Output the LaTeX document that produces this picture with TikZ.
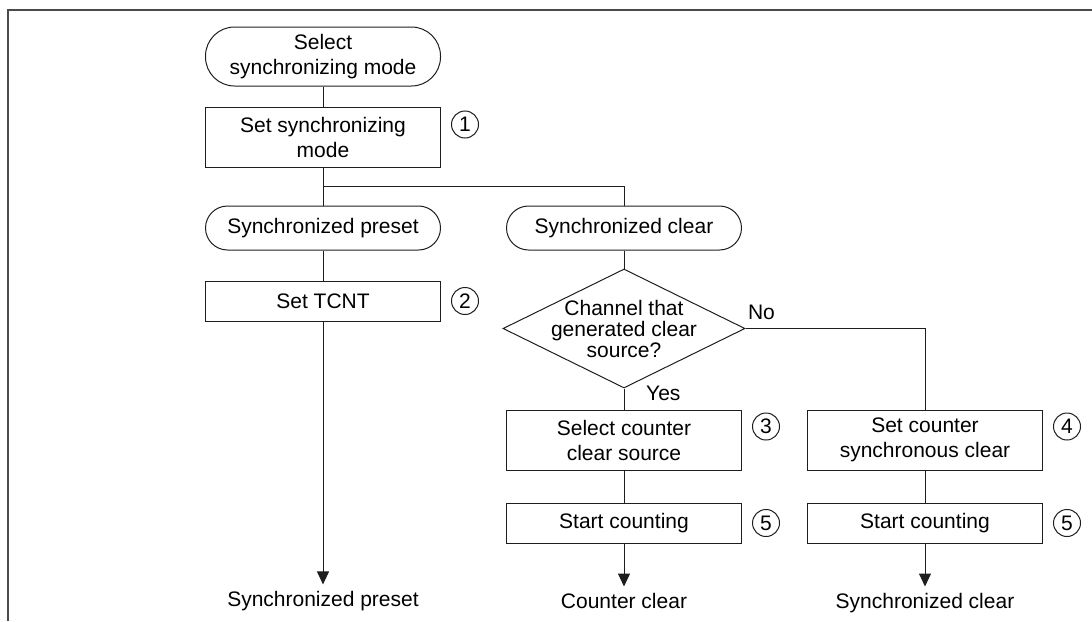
\documentclass[tikz,border=0pt]{standalone}
\usepackage{fontspec}
\setmainfont{Liberation Sans}
\usetikzlibrary{calc,positioning,arrows.meta,shapes.geometric}
\definecolor{linedark}{HTML}{1E1E1E}
\definecolor{framegray}{HTML}{4A4A4A}

\begin{document}
\begin{tikzpicture}[x=0.5pt, y=-0.5pt,
  every node/.style={font=\fontsize{10.5pt}{12.5pt}\selectfont, text=black},
  termbox/.style={
    draw=linedark, line width=0.5pt,
    rounded corners=11pt,
    minimum width=117.5pt, minimum height=22pt,
    inner sep=0pt, align=center
  },
  stepbox/.style={
    draw=linedark, line width=0.5pt,
    minimum width=117.5pt, minimum height=30pt,
    inner sep=0pt, align=center
  },
  decbox/.style={
    diamond, draw=linedark, line width=0.5pt,
    minimum width=121pt, minimum height=59.5pt,
    inner sep=0pt
  },
  numcirc/.style={
    circle, draw=linedark, line width=0.5pt,
    minimum size=13.5pt, inner sep=0pt
  },
  flow/.style={draw=linedark, line width=0.5pt},
  endarrow/.style={flow, -{Triangle[length=6.5pt, width=6pt]}}
]
  \useasboundingbox (0,0) rectangle (1092,621);

  % Marco
  \draw[framegray, line width=1pt] (7.5,621) -- (7.5,9.5) -- (1092,9.5);

  % Columna izquierda
  \node[termbox, minimum height=29.5pt, rounded corners=14.5pt] (start) at (323,56.5)
    {Select\\synchronizing mode};
  \node[stepbox, below=10pt of start] (setmode) {Set synchronizing\\mode};
  \node[numcirc, right=5pt of setmode.north east, yshift=-9pt] (n1) {1};
  \node[termbox, below=19pt of setmode] (preset) {Synchronized preset};
  \node[stepbox, minimum height=20pt, below=15pt of preset] (tcnt) {Set TCNT};
  \node[numcirc, right=5pt of tcnt] (n2) {2};

  % Columna central
  \node[termbox, right=32.5pt of preset] (clear) {Synchronized clear};
  \node[decbox, below=9pt of clear,
    label={[align=center, font=\fontsize{10.5pt}{10.5pt}\selectfont]center:Channel that\\generated clear\\source?}] (chan) {};
  \node[stepbox, below=10.5pt of chan] (selsrc) {Select counter\\clear source};
  \node[numcirc, right=5pt of selsrc.north east, yshift=-8.5pt] (n3) {3};
  \node[stepbox, minimum height=20pt, below=16pt of selsrc] (startB) {Start counting};
  \node[numcirc, right=5pt of startB] (n5b) {5};

  % Columna derecha
  \node[stepbox, right=32.5pt of selsrc] (setsync) {Set counter\\synchronous clear};
  \node[numcirc, right=5pt of setsync.north east, yshift=-8.5pt] (n4) {4};
  \node[stepbox, minimum height=20pt, right=32.5pt of startB] (startC) {Start counting};
  \node[numcirc, right=5pt of startC] (n5c) {5};

  % Resultados
  \node[below=21.5pt of startB] (outB) {Counter clear};
  \node[below=21.5pt of startC] (outC) {Synchronized clear};
  \node (outA) at (outB -| tcnt) {Synchronized preset};

  % Flechas
  \draw[flow] (start) -- (setmode);
  \draw[flow] (setmode) -- (preset);
  \draw[flow] (preset) -- (tcnt);
  \coordinate (fork) at ($(setmode.south)!0.5!(preset.north)$);
  \draw[flow] (fork) -| (clear.north);
  \draw[flow] (clear) -- (chan.north);
  \draw[flow] (chan.south) node[right, xshift=7.5pt, yshift=-2.5pt] {Yes} -- (selsrc);
  \draw[flow] (chan.east) node[above right, inner sep=1pt, yshift=3pt] {No} -| (setsync.north);
  \draw[flow] (selsrc) -- (startB);
  \draw[flow] (setsync) -- (startC);
  \draw[endarrow] (tcnt) -- (outA);
  \draw[endarrow] (startB) -- (outB);
  \draw[endarrow] (startC) -- (outC);
\end{tikzpicture}
\end{document}
